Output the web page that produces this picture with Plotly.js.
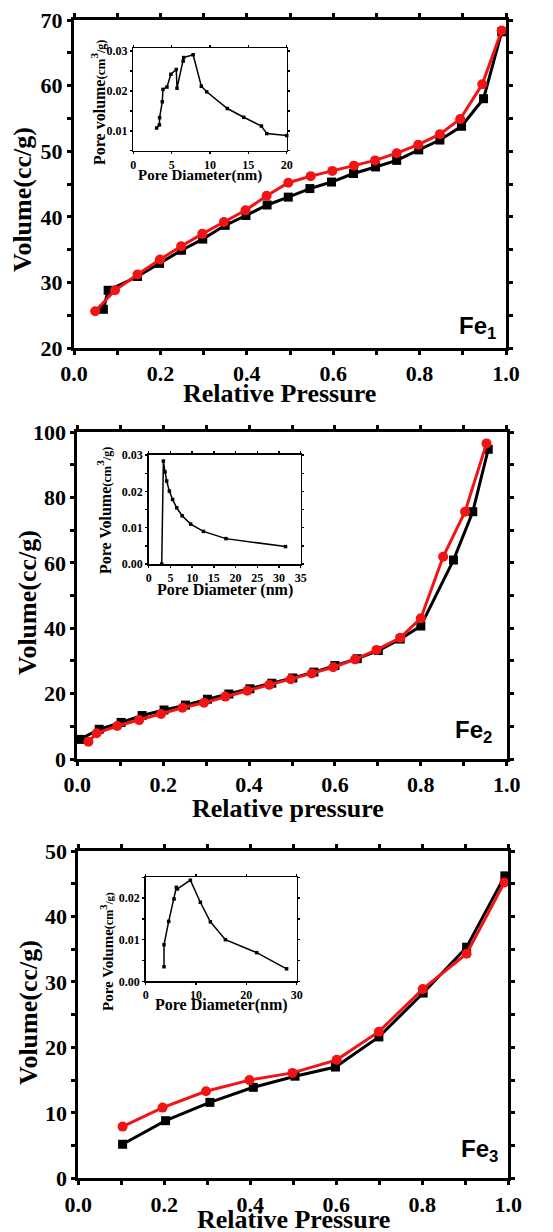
<!DOCTYPE html>
<html>
<head>
<meta charset="utf-8">
<script src="https://cdn.plot.ly/plotly-3.0.1.min.js"></script>
<style>html,body{margin:0;padding:0;background:#fff;}#chart{width:553px;height:1232px;}</style>
</head>
<body>
<div id="chart"></div>
<script>
// ---------- Fe1 ----------
const fe1AdsP = [0.068,0.079,0.147,0.198,0.249,0.298,0.350,0.398,0.447,0.496,0.546,0.596,0.647,0.698,0.747,0.798,0.847,0.897,0.948,0.990];
const fe1AdsV = [25.9,28.8,30.9,32.9,34.9,36.6,38.7,40.2,41.8,43.0,44.3,45.3,46.6,47.6,48.6,50.2,51.7,53.8,58.0,68.2];
const fe1DesP = [0.049,0.095,0.147,0.199,0.248,0.297,0.347,0.397,0.446,0.496,0.548,0.598,0.648,0.697,0.747,0.797,0.847,0.894,0.945,0.990];
const fe1DesV = [25.6,28.8,31.2,33.5,35.5,37.4,39.2,41.0,43.2,45.2,46.2,47.0,47.8,48.6,49.7,51.0,52.6,54.9,60.2,68.4];
const fe1PoreD = [3.04,3.40,3.43,3.78,3.87,4.39,4.90,5.60,5.70,6.50,6.57,7.80,8.87,9.57,12.26,14.40,16.70,17.40,20.0];
const fe1PoreV = [0.0107,0.0115,0.0133,0.0173,0.0204,0.0210,0.0242,0.0254,0.0207,0.0275,0.0284,0.0291,0.0212,0.0198,0.0156,0.0134,0.0112,0.0093,0.0088];
// ---------- Fe2 ----------
const fe2AdsP = [0.006,0.051,0.102,0.151,0.202,0.252,0.303,0.353,0.402,0.453,0.502,0.551,0.600,0.652,0.701,0.752,0.800,0.876,0.921,0.957];
const fe2AdsV = [6.0,9.1,11.2,13.3,15.0,16.5,18.3,19.9,21.5,23.2,24.8,26.6,28.6,30.7,33.2,36.7,40.7,60.9,75.7,94.8];
const fe2DesP = [0.026,0.045,0.093,0.144,0.195,0.245,0.295,0.345,0.396,0.447,0.497,0.546,0.596,0.647,0.697,0.752,0.800,0.852,0.903,0.953];
const fe2DesV = [5.3,7.9,10.1,11.9,13.8,15.7,17.2,19.1,20.9,22.7,24.4,26.2,28.1,30.5,33.4,37.1,43.1,61.9,75.7,96.6];
const fe2PoreD = [3.00,3.38,3.76,4.14,4.76,5.50,6.45,7.70,9.67,12.60,17.80,31.50];
const fe2PoreV = [0.0000,0.0284,0.0254,0.0229,0.0201,0.0178,0.0155,0.0133,0.0110,0.0090,0.0070,0.0048];
// ---------- Fe3 ----------
const fe3AdsP = [0.103,0.203,0.306,0.407,0.504,0.598,0.699,0.802,0.903,0.992];
const fe3AdsV = [5.2,8.8,11.6,13.9,15.6,17.0,21.6,28.3,35.3,46.2];
const fe3DesP = [0.103,0.196,0.297,0.398,0.498,0.601,0.699,0.801,0.903,0.991];
const fe3DesV = [7.9,10.8,13.3,15.0,16.1,18.1,22.4,28.9,34.3,45.2];
const fe3PoreD = [3.64,3.64,4.57,5.63,6.09,6.30,8.87,10.86,12.85,15.83,22.05,28.00];
const fe3PoreV = [0.0035,0.0088,0.0144,0.0198,0.0226,0.0222,0.0243,0.0190,0.0143,0.0100,0.0069,0.0030];

const panelLabels = ['Fe<sub>1</sub>','Fe<sub>2</sub>','Fe<sub>3</sub>'];
const mainXTitles = ['Relative Pressure','Relative pressure','Relative Pressure'];
const mainYTitle = 'Volume(cc/g)';
const insetXTitles = ['Pore Diameter(nm)','Pore Diameter (nm)','Pore Diameter(nm)'];
const insetYTitles = [
  'Pore volume<span style="font-size:13px">(cm</span><sup>3</sup><span style="font-size:12px">/g)</span>',
  'Pore Volume<span style="font-size:13px">(cm</span><sup>3</sup><span style="font-size:12px">/g)</span>',
  'Pore Volume<span style="font-size:12px">(cm</span><sup>3</sup><span style="font-size:11px">/g)</span>'
];

const W = 553, H = 1232;
const BLACK = '#000000', RED = '#f21414';
const serif = 'Liberation Serif';
const sans = 'Liberation Sans';

function dx(a,b){return [a/W, b/W];}
function dy(top,bottom){return [1-bottom/H, 1-top/H];}

function mainTraces(px,pv,dp,dv,xa,ya){
  return [
    {x:px,y:pv,xaxis:xa,yaxis:ya,mode:'lines+markers',cliponaxis:false,
     line:{color:BLACK,width:3},marker:{symbol:'square',size:9,color:BLACK},showlegend:false},
    {x:dp,y:dv,xaxis:xa,yaxis:ya,mode:'lines+markers',cliponaxis:false,
     line:{color:RED,width:3},marker:{symbol:'circle',size:10,color:RED},showlegend:false}
  ];
}
function insetTrace(d,v,xa,ya){
  return {x:d,y:v,xaxis:xa,yaxis:ya,mode:'lines+markers',cliponaxis:false,
    line:{color:BLACK,width:1.5},marker:{symbol:'square',size:3.5,color:BLACK},showlegend:false};
}

const data = [
  ...mainTraces(fe1AdsP,fe1AdsV,fe1DesP,fe1DesV,'x','y'),
  insetTrace(fe1PoreD,fe1PoreV,'x2','y2'),
  ...mainTraces(fe2AdsP,fe2AdsV,fe2DesP,fe2DesV,'x3','y3'),
  insetTrace(fe2PoreD,fe2PoreV,'x4','y4'),
  ...mainTraces(fe3AdsP,fe3AdsV,fe3DesP,fe3DesV,'x5','y5'),
  insetTrace(fe3PoreD,fe3PoreV,'x6','y6')
];

function mainX(domain,anchor){
  return {domain:domain,anchor:anchor,range:[0,1],dtick:0.2,tick0:0,tickformat:'.1f',
    showline:true,linewidth:3,linecolor:BLACK,mirror:'allticks',
    ticks:'outside',ticklen:4,tickwidth:3,tickcolor:BLACK,
    minor:{ticks:'outside',ticklen:4,tickwidth:3,tickcolor:BLACK,dtick:0.1,showgrid:false},
    showgrid:false,zeroline:false,
    tickfont:{family:serif,size:22,color:BLACK,weight:'bold'}};
}
function mainY(domain,anchor,range,dtick,minor){
  return {domain:domain,anchor:anchor,range:range,dtick:dtick,tick0:0,
    showline:true,linewidth:3,linecolor:BLACK,mirror:'allticks',
    ticks:'outside',ticklen:4,tickwidth:3,tickcolor:BLACK,
    minor:{ticks:'outside',ticklen:4,tickwidth:3,tickcolor:BLACK,dtick:minor,showgrid:false},
    showgrid:false,zeroline:false,
    tickfont:{family:serif,size:22,color:BLACK,weight:'bold'}};
}
function insetX(domain,anchor,range,dtick){
  return {domain:domain,anchor:anchor,range:range,dtick:dtick,tick0:0,
    showline:true,linewidth:1.5,linecolor:BLACK,mirror:'allticks',
    ticks:'outside',ticklen:2,tickwidth:1.5,tickcolor:BLACK,
    showgrid:false,zeroline:false,
    tickfont:{family:serif,size:12,color:BLACK,weight:'bold'}};
}
function insetY(domain,anchor,range){
  return {domain:domain,anchor:anchor,range:range,dtick:0.01,tick0:0,tickformat:'.2f',
    showline:true,linewidth:1.5,linecolor:BLACK,mirror:'allticks',
    ticks:'outside',ticklen:2,tickwidth:1.5,tickcolor:BLACK,
    minor:{ticks:'outside',ticklen:2,tickwidth:1.5,tickcolor:BLACK,dtick:0.005,showgrid:false},
    showgrid:false,zeroline:false,
    tickfont:{family:serif,size:12,color:BLACK,weight:'bold'}};
}

function label(text,px,py,family,size,angle){
  return {text:text,xref:'paper',yref:'paper',x:px/W,y:1-py/H,xanchor:'center',yanchor:'middle',
    showarrow:false,textangle:angle||0,font:{family:family,size:size,color:BLACK,weight:'bold'}};
}

const layout = {
  width:W,height:H,margin:{l:0,r:0,t:0,b:0},
  paper_bgcolor:'#ffffff',plot_bgcolor:'#ffffff',showlegend:false,
  xaxis: mainX(dx(74,506),'y'),
  yaxis: mainY(dy(20,348),'x',[20,70],10,5),
  xaxis2: insetX(dx(133.3,286.7),'y2',[0,20],5),
  yaxis2: insetY(dy(48,150.7),'x2',[0.005,0.0308]),
  xaxis3: mainX(dx(77.3,506.7),'y3'),
  yaxis3: mainY(dy(432.3,759),'x3',[0,100],20,10),
  xaxis4: insetX(dx(148.7,300.7),'y4',[0,35],5),
  yaxis4: insetY(dy(454.5,564),'x4',[0,0.0302]),
  xaxis5: mainX(dx(78.3,508.3),'y5'),
  yaxis5: mainY(dy(851,1178.3),'x5',[0,50],10,5),
  xaxis6: insetX(dx(145.7,296.7),'y6',[0,30],10),
  yaxis6: insetY(dy(877.3,981.3),'x6',[0,0.025]),
  annotations:[
    label(mainXTitles[0],279,393,serif,26),
    label(mainYTitle,22,200,serif,26,-90),
    label(insetXTitles[0],200,176,serif,15),
    label(insetYTitles[0],98,103,serif,16,-90),
    label(panelLabels[0],477,328,sans,24),

    label(mainXTitles[1],288,808,serif,26),
    label(mainYTitle,27,603,serif,26,-90),
    label(insetXTitles[1],225,590,serif,16),
    label(insetYTitles[1],104,511,serif,16,-90),
    label(panelLabels[1],473,732,sans,24),

    label(mainXTitles[2],294,1219,serif,26),
    label(mainYTitle,28,1013,serif,26,-90),
    label(insetXTitles[2],221,1005,serif,16),
    label(insetYTitles[2],107,952,serif,15,-90),
    label(panelLabels[2],479,1150,sans,24)
  ]
};

Plotly.newPlot('chart',data,layout,{staticPlot:true,displayModeBar:false});
</script>
</body>
</html>
